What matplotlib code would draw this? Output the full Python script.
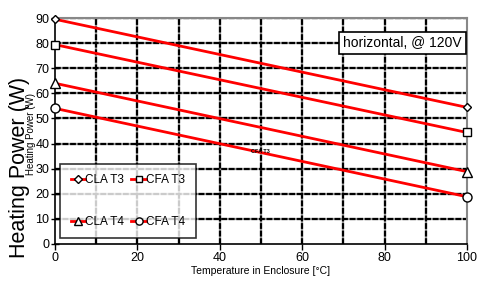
import numpy as np
import matplotlib.pyplot as plt

plt.rcParams['font.family'] = ['Liberation Sans', 'DejaVu Sans']

# data
temp = [0, 100]
cla_t3 = [89.5, 54.4]
cfa_t3 = [79.4, 44.4]
cla_t4 = [64.0, 28.8]
cfa_t4 = [54.0, 18.8]

fig = plt.figure(figsize=(4.79, 2.86), dpi=100)
ax = fig.add_axes([0.115, 0.147, 0.86, 0.79])

#grid: gray line under black dashes
for v in range(10, 100, 10):
    ax.axvline(v, color='#999999', lw=1.6, zorder=1)
    ax.axvline(v, color='black', lw=1.6, ls=(0, (2.6, 0.8)), zorder=1.1)
for v in range(10, 91, 10):
    ax.axhline(v, color='#999999', lw=1.6, zorder=1)
    ax.axhline(v, color='black', lw=1.6, ls=(0, (2.6, 0.8)), zorder=1.1)

mk = dict(mfc='white', mec='black', mew=1.0, color='red', lw=2, zorder=3, clip_on=False)
l1, = ax.plot(temp, cla_t3, marker='D', ms=4.5, label='CLA T3', **mk)
l2, = ax.plot(temp, cfa_t3, marker='s', ms=6, label='CFA T3', **mk)
l3, = ax.plot(temp, cla_t4, marker='^', ms=6.5, label='CLA T4', **mk)
l4, = ax.plot(temp, cfa_t4, marker='o', ms=6.5, label='CFA T4', **mk)

ax.set_xlim(0, 100)
ax.set_ylim(0, 90)
ax.set_xticks(range(0, 101, 20))
ax.set_yticks(range(0, 91, 10))
ax.tick_params(labelsize=9, width=1, colors='black')
ax.tick_params(axis='x', length=4, direction='out', pad=2)
ax.tick_params(axis='y', length=6, direction='inout', pad=1)
for s in ['top', 'right']:
    ax.spines[s].set_color('#888888')
    ax.spines[s].set_linewidth(1.5)
for s in ['left', 'bottom']:
    ax.spines[s].set_linewidth(1.2)

ax.set_xlabel('Temperature in Enclosure [°C]', fontsize=7.5, labelpad=1)
ax.set_ylabel('Heating Power (W)', fontsize=15.5)
ax.yaxis.set_label_coords(-0.062, 0.34)
fig.text(0.064, 0.53, 'Heating Power (W)', rotation=90, fontsize=7, ha='center', va='center')
ax.text(49.8, 36.8, 'CFA T3', fontsize=4, fontweight='bold', ha='center', va='center', zorder=4)

ax.text(84.3, 80, 'horizontal, @ 120V', fontsize=10, ha='center', va='center', zorder=5,
        bbox=dict(boxstyle='square,pad=0.3', fc='white', ec='black', lw=1.2))

leg = ax.legend(handles=[l1, l3, l2, l4], ncol=2, loc='lower left', bbox_to_anchor=(0.012, 0.025),
                fontsize=8.5, frameon=True, fancybox=False, edgecolor='black',
                handlelength=1.2, handletextpad=0.05, columnspacing=0.6,
                labelspacing=2.5, borderpad=0.9, borderaxespad=0, markerscale=0.8)
leg.get_frame().set_linewidth(1.2)
leg.set_zorder(6)

plt.savefig('out.png', dpi=100)
